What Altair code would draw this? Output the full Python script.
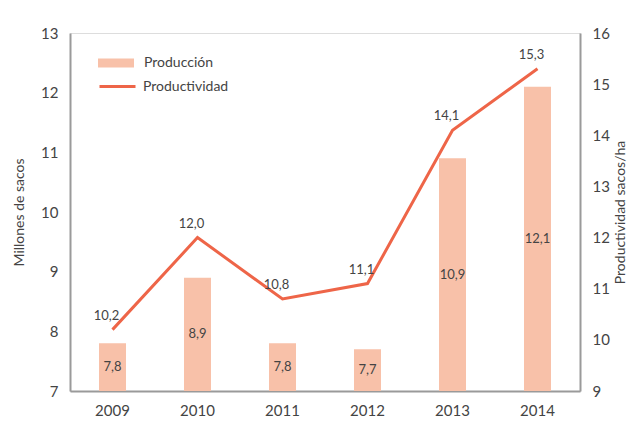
import altair as alt
import pandas as pd

years = ["2009", "2010", "2011", "2012", "2013", "2014"]
produccion = [7.8, 8.9, 7.8, 7.7, 10.9, 12.1]
productividad = [10.2, 12.0, 10.8, 11.1, 14.1, 15.3]

df = pd.DataFrame({"year": years, "prod": produccion, "pvd": productividad})

FONT = "Lato"
TXT = "#444444"
BAR = "#F8C1A9"
LINE = "#EE6548"
AX = "#9a9a9a"

base = alt.Chart(df)

x_enc = alt.X("year:N", title=None, sort=years,
              scale=alt.Scale(paddingInner=0.0, paddingOuter=0.0),
              axis=alt.Axis(labelAngle=0, ticks=False, labelPadding=12,
                            labelFontSize=15, labelColor=TXT, labelFont=FONT,
                            domainColor=AX, domainWidth=2))

yl_scale = alt.Scale(domain=[7, 13], nice=False, zero=False)
yr_scale = alt.Scale(domain=[9, 16], nice=False, zero=False)

bars = base.transform_calculate(s1="'Producción'").mark_bar(size=27).encode(
    x=x_enc,
    y=alt.Y("prod:Q", scale=yl_scale, title="Millones de sacos",
            axis=alt.Axis(values=[7, 8, 9, 10, 11, 12, 13], format="d", ticks=False, grid=False,
                          labelPadding=12, labelFontSize=15, labelColor=TXT, labelFont=FONT,
                          titleFontSize=14, titleFont=FONT, titleColor=TXT, titleFontWeight="normal",
                          titlePadding=14, domainColor=AX, domainWidth=2)),
    y2=alt.datum(7),
    color=alt.Color("s1:N", scale=alt.Scale(domain=["Producción"], range=[BAR]),
                    legend=alt.Legend(title=None, orient="none", legendX=28, legendY=12,
                                      symbolType="M-1,-0.25H1V0.25H-1Z", symbolSize=1296,
                                      symbolStrokeWidth=0, labelFontSize=14, labelFont=FONT,
                                      labelColor=TXT, labelOffset=10)),
)

bar_text = base.transform_calculate(
    mid="(7 + datum.prod) / 2",
    lab="replace(format(datum.prod, '.1f'), '.', ',')",
).mark_text(fontSize=13, font=FONT, color=TXT).encode(
    x=alt.X("year:N", sort=years),
    y=alt.Y("mid:Q", scale=yl_scale),
    text="lab:N",
)

line = base.transform_calculate(s2="'Productividad'").mark_line(strokeWidth=3).encode(
    x=alt.X("year:N", sort=years),
    y=alt.Y("pvd:Q", scale=yr_scale, title="Productividad sacos/ha",
            axis=alt.Axis(orient="right", values=list(range(9, 17)), format="d", ticks=False, grid=False,
                          labelPadding=12, labelFontSize=15, labelColor=TXT, labelFont=FONT,
                          titleFontSize=14, titleFont=FONT, titleColor=TXT, titleFontWeight="normal",
                          titlePadding=18, titleAngle=270, domainColor=AX, domainWidth=2)),
    stroke=alt.Stroke("s2:N", scale=alt.Scale(domain=["Productividad"], range=[LINE]),
                      legend=alt.Legend(title=None, orient="none", legendX=28, legendY=34,
                                        symbolType="stroke", symbolSize=1296, symbolStrokeWidth=3,
                                        labelFontSize=14, labelFont=FONT, labelColor=TXT,
                                        labelOffset=6)),
)

line_text = base.transform_calculate(
    lab="replace(format(datum.pvd, '.1f'), '.', ',')",
).mark_text(fontSize=13, font=FONT, color=TXT, dy=-14, dx=-6).encode(
    x=alt.X("year:N", sort=years),
    y=alt.Y("pvd:Q", scale=yr_scale),
    text="lab:N",
)

chart = alt.layer(
    alt.layer(bars, bar_text),
    alt.layer(line, line_text),
).resolve_scale(y="independent").properties(
    width=510, height=358,
    autosize=alt.AutoSizeParams(type="none"),
    padding={"left": 62, "top": 25, "right": 50, "bottom": 38},
).configure_view(stroke=None).configure(font=FONT)

chart.save("out.html", embed_options={"renderer": "svg", "actions": False})
